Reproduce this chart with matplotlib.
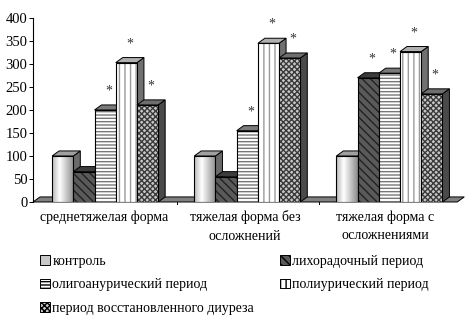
import numpy as np
import matplotlib
matplotlib.use('Agg')
import matplotlib.pyplot as plt
from matplotlib.patches import Polygon, Rectangle

plt.rcParams['font.family'] = ['Liberation Serif', 'DejaVu Serif']

# ---------------- data ----------------
groups = ['среднетяжелая форма', 'тяжелая форма без\nосложнений', 'тяжелая форма с\nосложнениями']
periods = ['контроль', 'лихорадочный период', 'олигоанурический период',
           'полиурический период', 'период восстановленного диуреза']
kontrol = [100, 100, 100]
lihorad = [66, 55, 270]
oligo = [200, 155, 280]
poliur = [303, 345, 327]
vosst = [211, 313, 235]
# which bars carry a "*" (per group, per period)
stars = [[0, 0, 1, 1, 1],
         [0, 0, 1, 1, 1],
         [0, 1, 1, 1, 1]]
yticks = [0, 50, 100, 150, 200, 250, 300, 350, 400]

values = np.array([kontrol, lihorad, oligo, poliur, vosst])  # period x group

W, H = 475, 316
fig = plt.figure(figsize=(W / 100, H / 100), dpi=100)
ax = fig.add_axes([33 / W, 1 - 202 / H, 437 / W, 184 / H])
ax.set_xlim(-0.9, 19.7)
ax.set_ylim(0, 400)

dx, dy = 0.33, 11  # depth offset of the pseudo 3D bars
group_start = [0, 6.7, 13.4]

# floor
ax.add_patch(Polygon([(-0.9, 0), (19.1, 0), (19.1 + dx, dy), (-0.9 + dx, dy)],
                     closed=True, facecolor='#808080', edgecolor='black', lw=0.7,
                     zorder=1, clip_on=False))
for xt in [5.9, 12.6]:
    ax.plot([xt, xt], [0, -4], color='black', lw=0.7, clip_on=False, zorder=1)

grad = np.interp(np.linspace(0, 1, 40), [0, 0.35, 1], [0.72, 1.0, 0.55]).reshape(1, -1)

front_styles = [
    dict(facecolor='white', hatch=None, hcolor='black'),
    dict(facecolor='#5a5a5a', hatch='\\\\\\\\', hcolor='#222222'),
    dict(facecolor='white', hatch='-----', hcolor='#777777'),
    dict(facecolor='white', hatch='|||', hcolor='#9a9a9a'),
    dict(facecolor='#c8c8c8', hatch='xxxxxx', hcolor='#3a3a3a'),
]
top_colors = ['#a0a0a0', '#3c3c3c', '#7a7a7a', '#b0b0b0', '#6e6e6e']
side_colors = ['#6a6a6a', '#2a2a2a', '#555555', '#707070', '#4a4a4a']

z = 2
for g in range(3):
    for p in range(5):
        x0 = group_start[g] + p
        h = values[p, g]
        # side face
        ax.add_patch(Polygon([(x0 + 1, 0), (x0 + 1 + dx, dy), (x0 + 1 + dx, h + dy), (x0 + 1, h)],
                             closed=True, facecolor=side_colors[p], edgecolor='black',
                             lw=0.7, zorder=z))
        # top face
        ax.add_patch(Polygon([(x0, h), (x0 + dx, h + dy), (x0 + 1 + dx, h + dy), (x0 + 1, h)],
                             closed=True, facecolor=top_colors[p], edgecolor='black',
                             lw=0.7, zorder=z))
        st = front_styles[p]
        if p == 0:
            ax.imshow(grad, extent=[x0, x0 + 1, 0, h], aspect='auto', cmap='gray',
                      vmin=0, vmax=1, zorder=z + 0.1, interpolation='bilinear')
        else:
            ax.add_patch(Rectangle((x0, 0), 1, h, facecolor=st['facecolor'],
                                   edgecolor=st['hcolor'], hatch=st['hatch'], lw=0,
                                   zorder=z + 0.1))
        ax.add_patch(Rectangle((x0, 0), 1, h, facecolor='none', edgecolor='black',
                               lw=0.8, zorder=z + 0.2))
        if stars[g][p]:
            ax.text(x0 + 0.5 + dx / 2, h + dy + 30, '*', ha='center', va='center',
                    fontsize=10, color='#333333', zorder=z + 0.3, clip_on=False)
        z += 1

ax.set_xlim(-0.9, 19.7)
ax.set_ylim(0, 400)

for s in ['top', 'right', 'bottom']:
    ax.spines[s].set_visible(False)
ax.spines['left'].set_linewidth(0.8)
ax.set_xticks([])
ax.set_yticks(yticks)
ax.tick_params(axis='y', length=3, width=0.7, labelsize=10.5, pad=1)

# category labels
label_x = [104, 245, 385]
for lx, name in zip(label_x, groups):
    fig.text(lx / W, 1 - 210 / H, name, ha='center', va='top', fontsize=10,
             linespacing=1.55)

# legend
handles = []
for p in range(5):
    st = front_styles[p]
    if p == 0:
        handles.append(Rectangle((0, 0), 1, 1, facecolor='#c8c8c8', edgecolor='black', lw=0.7))
    else:
        handles.append(Rectangle((0, 0), 1, 1, facecolor=st['facecolor'], edgecolor='black',
                                 hatch=st['hatch'], lw=0.7))
order = [0, 2, 4, 1, 3]
fig.legend([handles[i] for i in order], [periods[i] for i in order],
           loc='upper left', bbox_to_anchor=(40 / W, 1 - 255 / H), ncol=2,
           frameon=False, fontsize=10, handlelength=0.7, handleheight=0.7,
           handletextpad=0.2, labelspacing=0.75, columnspacing=1.85, borderpad=0,
           borderaxespad=0)

fig.savefig('out.png', dpi=100)
